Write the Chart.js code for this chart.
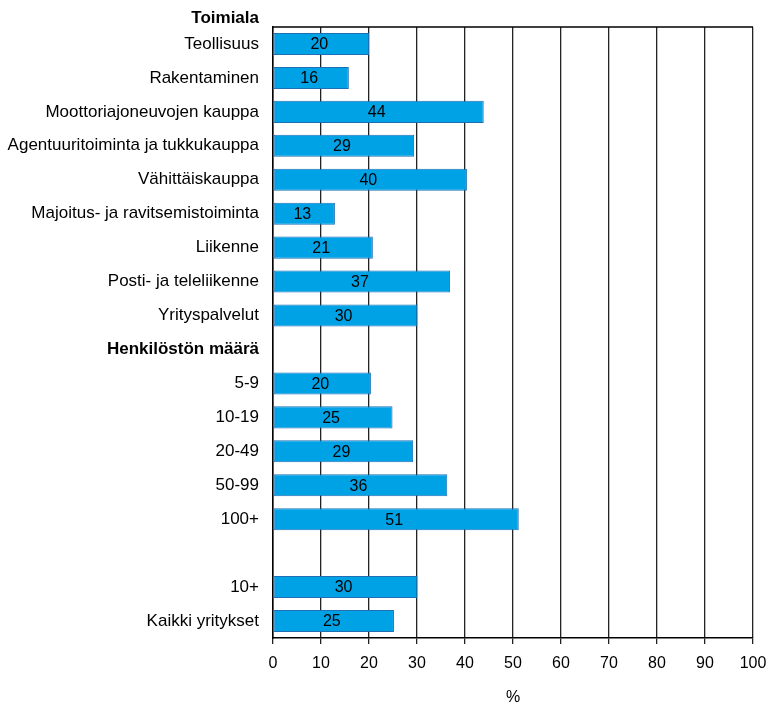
<!DOCTYPE html>
<html>
<head>
<meta charset="utf-8">
<script src="https://cdn.jsdelivr.net/npm/chart.js@4/dist/chart.umd.min.js"></script>
<style>
  html, body { margin: 0; padding: 0; background: #fff; }
  #wrap { width: 768px; height: 707px; position: relative; }
</style>
</head>
<body>
<div id="wrap"><canvas id="bars"></canvas></div>
<script>
const groupTitle = 'Toimiala';
const categories = [
  'Teollisuus', 'Rakentaminen', 'Moottoriajoneuvojen kauppa', 'Agentuuritoiminta ja tukkukauppa',
  'Vähittäiskauppa', 'Majoitus- ja ravitsemistoiminta', 'Liikenne', 'Posti- ja teleliikenne',
  'Yrityspalvelut', 'Henkilöstön määrä', '5-9', '10-19', '20-49', '50-99', '100+', '', '10+',
  'Kaikki yritykset'
];
const headerRows = [9];
const values = [20.0, 15.8, 43.9, 29.4, 40.4, 12.9, 20.8, 36.9, 30.1, null, 20.4, 24.9, 29.2, 36.3, 51.2, null, 30.1, 25.2];
const xTicks = [0, 10, 20, 30, 40, 50, 60, 70, 80, 90, 100];
const xTitle = '%';

const FONT = "'Liberation Sans', Arial, sans-serif";

// numbers inside the bars
const barLabels = {
  id: 'barLabels',
  afterDatasetsDraw(chart) {
    const { ctx } = chart;
    const meta = chart.getDatasetMeta(0);
    ctx.save();
    ctx.font = `16px ${FONT}`;
    ctx.fillStyle = '#000';
    ctx.textAlign = 'center';
    ctx.textBaseline = 'middle';
    meta.data.forEach((bar, i) => {
      const v = values[i];
      if (v == null) return;
      ctx.fillText(String(Math.round(v)), (bar.x + bar.base) / 2 - 2, bar.y + 1);
    });
    ctx.restore();
  }
};

// top frame line + group heading above the plot
const frame = {
  id: 'frame',
  afterDraw(chart) {
    const { ctx, chartArea } = chart;
    const ys = chart.scales.y;
    ctx.save();
    ctx.strokeStyle = '#000';
    ctx.lineWidth = 1.5;
    ctx.beginPath();
    ctx.moveTo(chartArea.left, chartArea.top);
    ctx.lineTo(chartArea.right, chartArea.top);
    ctx.stroke();
    ctx.font = `bold 17px ${FONT}`;
    ctx.fillStyle = '#000';
    ctx.textAlign = 'right';
    ctx.textBaseline = 'middle';
    ctx.fillText(groupTitle, ys.right - 14, 18);
    ctx.restore();
  }
};

new Chart(document.getElementById('bars'), {
  type: 'bar',
  data: {
    labels: categories,
    datasets: [{
      data: values,
      backgroundColor: '#00a2e6',
      borderColor: '#1f6fb4',
      borderWidth: 1,
      borderSkipped: false,
      barPercentage: 0.65,
      categoryPercentage: 1
    }]
  },
  options: {
    indexAxis: 'y',
    responsive: true,
    maintainAspectRatio: false,
    animation: false,
    layout: { padding: { top: 27, right: 15, left: 0, bottom: 0 } },
    plugins: { legend: { display: false }, tooltip: { enabled: false } },
    scales: {
      x: {
        min: 0,
        max: 100,
        afterBuildTicks: (s) => { s.ticks = xTicks.map(v => ({ value: v })); },
        afterFit: (s) => { s.height = 69; s.paddingLeft = 0; s.paddingRight = 0; },
        grid: { color: '#222', lineWidth: 1.3, tickLength: 6, drawTicks: true },
        border: { color: '#000', width: 1.5 },
        ticks: { color: '#000', font: { family: FONT, size: 16 }, padding: 10, maxRotation: 0 },
        title: { display: true, text: xTitle, color: '#000', font: { family: FONT, size: 16 }, padding: { top: 0, bottom: 0 } }
      },
      y: {
        afterFit: (s) => { s.width = 273; },
        grid: { display: false, drawTicks: false },
        border: { color: '#000', width: 1.5 },
        ticks: {
          color: '#000',
          padding: 14,
          autoSkip: false,
          font: (c) => ({ family: FONT, size: 17, weight: headerRows.includes(c.index) ? 'bold' : 'normal' })
        }
      }
    }
  },
  plugins: [barLabels, frame]
});
</script>
</body>
</html>
